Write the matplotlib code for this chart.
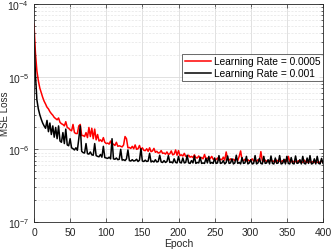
import matplotlib
matplotlib.use("Agg")
import matplotlib.pyplot as plt
from matplotlib.ticker import LogLocator, NullFormatter
import numpy as np

plt.rcParams['font.family'] = ['Liberation Sans', 'DejaVu Sans']
plt.rcParams['mathtext.fontset'] = 'custom'
plt.rcParams['mathtext.rm'] = 'Liberation Sans'

epochs = list(range(0, 401, 2))

# loss values in units of 1e-7
loss_lr_0005 = [
    530, 210, 120, 88, 70, 60, 52, 46, 42, 38,
    36, 33, 31, 29.5, 27.5, 26.5, 25.5, 27, 23.5, 22.5,
    22, 21, 24, 20, 19.5, 18.5, 18, 22, 17, 16.5,
    16.5, 21, 22, 15.5, 15.5, 15, 17, 14.5, 20, 15,
    19.5, 14, 19, 13.5, 16, 13, 13.5, 12.8, 14.5, 12.5,
    12, 12.2, 11.8, 13, 11.5, 11.8, 11.3, 12.5, 11, 11.2,
    11, 10.8, 11.5, 15, 14, 10.5, 10.6, 10.3, 11, 10.2,
    11.5, 10, 10.2, 11.3, 9.8, 10.5, 9.7, 9.6, 10.2, 9.4,
    10.5, 9.3, 9.5, 10.3, 9.1, 9.4, 8.9, 9, 9.6, 8.8,
    8.9, 8.6, 9.2, 8.5, 8.7, 9.5, 8.4, 8.6, 9.8, 8.3,
    9.6, 8.2, 8.4, 8.1, 8.8, 8.0, 7.9, 8.3, 7.8, 8.0,
    7.7, 8.4, 7.7, 7.6, 8.1, 7.5, 7.7, 7.4, 8.5, 7.4,
    7.6, 7.3, 7.5, 8.0, 7.3, 7.4, 7.2, 7.6, 7.1, 7.3,
    7.2, 7.8, 7.1, 9.2, 7.2, 7.1, 7.4, 7.0, 7.3, 7.0,
    7.6, 7.0, 8.0, 9.5, 7.1, 7.0, 7.3, 6.9, 7.2, 6.9,
    7.0, 7.4, 6.9, 7.1, 6.8, 7.2, 6.9, 9.3, 7.0, 6.8,
    7.1, 6.8, 7.0, 6.8, 7.3, 6.8, 6.9, 6.7, 7.1, 6.8,
    6.9, 6.7, 7.0, 6.7, 7.2, 6.8, 8.0, 6.8, 6.7, 6.9,
    6.7, 6.8, 6.6, 7.0, 6.7, 6.8, 6.6, 7.1, 6.7, 6.6,
    6.9, 6.7, 6.6, 6.8, 6.6, 7.0, 6.6, 6.7, 6.6, 6.9,
    6.7,
]

loss_lr_001 = [
    390, 105, 48, 36, 30, 26, 23, 21, 19.5, 25,
    17.5, 23, 16, 21, 14.7, 20, 14, 21, 13, 12.5,
    17, 12, 19, 11.5, 11.2, 14, 10.5, 10.2, 9.8, 10.5,
    9.7, 14, 21, 9.4, 9.0, 8.9, 12, 8.7, 8.6, 9.2,
    8.4, 8.3, 12, 8.2, 8.0, 7.9, 8.5, 7.8, 11, 7.7,
    7.6, 7.5, 7.8, 7.4, 14, 7.4, 7.3, 7.6, 7.2, 7.3,
    10, 7.1, 7.2, 7.0, 7.4, 9.8, 7.0, 6.9, 7.2, 6.9,
    7.0, 7.3, 6.8, 7.1, 10.2, 6.9, 6.8, 7.1, 6.8, 6.9,
    8.8, 6.7, 6.9, 6.7, 7.2, 6.7, 6.8, 8.3, 6.7, 6.6,
    7.0, 6.6, 6.8, 8.2, 6.6, 6.7, 6.5, 7.4, 6.6, 6.5,
    8.0, 6.6, 6.5, 7.6, 6.5, 6.6, 8.3, 6.5, 6.4, 7.0,
    6.5, 8.1, 6.4, 6.6, 6.5, 7.8, 6.4, 6.5, 6.4, 7.5,
    6.5, 8.0, 6.4, 6.6, 6.4, 7.6, 6.4, 6.5, 8.2, 6.4,
    6.5, 7.0, 6.3, 6.6, 8.1, 6.4, 6.5, 7.4, 6.3, 6.5,
    8.3, 6.4, 6.6, 6.3, 7.7, 6.4, 6.5, 8.0, 6.3, 6.5,
    7.2, 6.3, 6.4, 8.2, 6.3, 6.5, 7.5, 6.4, 6.3, 8.0,
    6.4, 6.5, 7.2, 6.3, 8.1, 6.4, 6.3, 7.6, 6.4, 6.5,
    8.2, 6.3, 6.4, 7.3, 6.3, 8.0, 6.4, 6.3, 7.7, 6.4,
    6.3, 8.1, 6.4, 6.5, 7.2, 6.3, 8.0, 6.4, 6.3, 7.6,
    6.4, 8.2, 6.3, 6.4, 7.4, 6.3, 8.0, 6.4, 6.3, 7.5,
    6.4,
]

labels = ["Learning Rate = 0.0005", "Learning Rate = 0.001"]
x_ticks = [0, 50, 100, 150, 200, 250, 300, 350, 400]

fig = plt.figure(figsize=(3.32, 2.53), dpi=100)
ax = fig.add_axes([34 / 332, 30 / 253, 289 / 332, 218 / 253])

scale = 1e-7
ax.plot(epochs, np.array(loss_lr_0005) * scale, color=(1, 0, 0), lw=1.1, label=labels[0])
ax.plot(epochs, np.array(loss_lr_001) * scale, color='black', lw=1.1, label=labels[1])

ax.set_yscale('log')
ax.set_xlim(0, 400)
ax.set_ylim(1e-7, 1e-4)
ax.set_xticks(x_ticks)
ax.yaxis.set_minor_locator(LogLocator(base=10, subs=np.arange(2, 10)))
ax.yaxis.set_minor_formatter(NullFormatter())

ax.grid(True, which='major', color='#dcdcdc', lw=0.6)
ax.grid(True, which='minor', axis='y', color='#e4e4e4', lw=0.5, ls=(0, (3, 2)))
ax.set_axisbelow(True)

ax.tick_params(which='both', direction='in', top=True, right=True, labelsize=7.5,
               colors='#262626', width=0.5)
ax.tick_params(which='major', length=3)
ax.tick_params(which='minor', length=1.5)
for s in ax.spines.values():
    s.set_linewidth(0.6)
    s.set_color('#262626')

ax.set_xlabel('Epoch', fontsize=7.5, labelpad=1, color='#262626')
ax.set_ylabel('MSE Loss', fontsize=7, color='#262626')
ax.yaxis.set_label_coords(-0.082, 0.5)

leg = ax.legend(loc='upper right', bbox_to_anchor=(1.0, 0.771), borderaxespad=0,
                fontsize=7.3, frameon=True, fancybox=False, edgecolor='#262626',
                handlelength=2.6, handletextpad=0.3, borderpad=0.25, labelspacing=0.2)
leg.get_frame().set_linewidth(0.6)

fig.savefig('out.png', dpi=100)
